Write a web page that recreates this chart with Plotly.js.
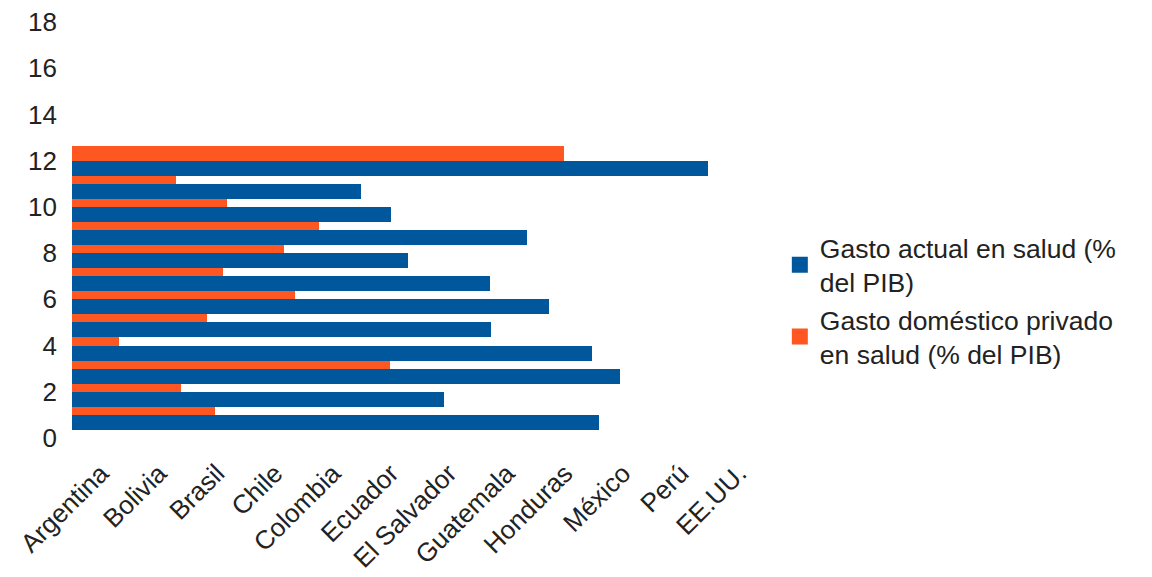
<!DOCTYPE html>
<html>
<head>
<meta charset="utf-8">
<script src="https://cdn.plot.ly/plotly-3.0.1.min.js"></script>
<style>html,body{margin:0;padding:0;background:#fff}#chart{width:1152px;height:577px}</style>
</head>
<body>
<div id="chart"></div>
<script>
const categories = ['Argentina', 'Bolivia', 'Brasil', 'Chile', 'Colombia', 'Ecuador', 'El Salvador', 'Guatemala', 'Honduras', 'México', 'Perú', 'EE.UU.'];
const gastoActual = [9.09, 6.42, 9.45, 8.96, 7.22, 8.23, 7.21, 5.79, 7.84, 5.50, 4.98, 10.97];
const gastoPrivado = [2.47, 1.88, 5.48, 0.81, 2.32, 3.84, 2.60, 3.66, 4.26, 2.67, 1.80, 8.49];
const yTickValues = [0, 2, 4, 6, 8, 10, 12, 14, 16, 18];
const seriesNames = ['Gasto actual en salud (%<br>del PIB)', 'Gasto doméstico privado<br>en salud (% del PIB)'];

const BLUE = '#01579B';
const ORANGE = '#FF5722';
const FONT = 'Liberation Sans, Arial, sans-serif';

const groupPos = categories.map((c, i) => i + 1);

const traces = [
  {
    type: 'bar', orientation: 'h', x: gastoPrivado, y: groupPos,
    offset: 0.0, width: 0.65, marker: {color: ORANGE},
    showlegend: false, hoverinfo: 'skip'
  },
  {
    type: 'bar', orientation: 'h', x: gastoActual, y: groupPos,
    offset: -0.65, width: 0.65, marker: {color: BLUE},
    showlegend: false, hoverinfo: 'skip'
  },
  {
    type: 'scatter', mode: 'markers', x: [null], y: [null], name: seriesNames[0],
    marker: {symbol: 'square', size: 18, color: BLUE}, legendrank: 1
  },
  {
    type: 'scatter', mode: 'markers', x: [null], y: [null], name: seriesNames[1],
    marker: {symbol: 'square', size: 18, color: ORANGE}, legendrank: 2
  }
];

const layout = {
  width: 1152, height: 577,
  margin: {l: 72, r: 384, t: 22, b: 139},
  paper_bgcolor: '#fff', plot_bgcolor: '#fff',
  font: {family: FONT, size: 26, color: '#222'},
  barmode: 'overlay',
  bargap: 0,
  xaxis: {
    range: [0, 12], showgrid: false, zeroline: false, showline: false,
    tickmode: 'array', tickvals: categories.map((c, i) => i + 0.5), ticktext: categories,
    tickangle: -45, ticks: '', ticklabelstandoff: 14,
    tickfont: {family: FONT, size: 26, color: '#222'}
  },
  yaxis: {
    range: [0, 18], showgrid: false, zeroline: false, showline: false,
    tickmode: 'array', tickvals: yTickValues, ticktext: yTickValues.map(String),
    ticks: '', ticklabelstandoff: 14,
    tickfont: {family: FONT, size: 26, color: '#222'}
  },
  legend: {
    x: 1.017, xanchor: 'left', y: 0.33, yanchor: 'middle',
    font: {family: FONT, size: 26.5, color: '#222'},
    bgcolor: 'rgba(0,0,0,0)', tracegroupgap: 0, valign: 'middle',
    itemsizing: 'trace'
  },
  showlegend: true
};

Plotly.newPlot('chart', traces, layout, {staticPlot: true, displayModeBar: false});
</script>
</body>
</html>
